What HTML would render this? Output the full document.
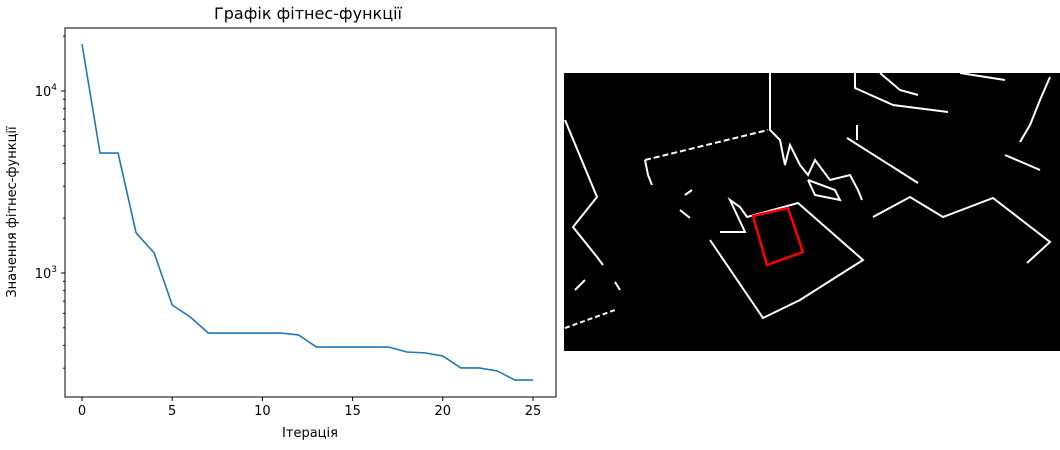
<!DOCTYPE html>
<html><head><meta charset="utf-8"><style>
body{margin:0;background:#fff;width:1060px;height:450px;overflow:hidden;font-family:"Liberation Sans","DejaVu Sans",sans-serif}
svg{position:absolute;left:0;top:0}
text{font-family:"DejaVu Sans","Liberation Sans",sans-serif;fill:#000}
</style></head><body>
<svg id="s" width="1060" height="450">
<text x="308" y="19" font-size="16" text-anchor="middle">Графік фітнес-функції</text>
<g id="axes"></g>
<text x="310" y="437" font-size="13" text-anchor="middle">Ітерація</text>
<text transform="translate(16,212) rotate(-90)" font-size="13" text-anchor="middle">Значення фітнес-функції</text>
<g>
<rect x="564" y="73" width="496" height="278" fill="#000"/>
<g fill="none" stroke="#fff" stroke-width="2">
<polyline points="710,240 763,318 800,300 863,260 798,203 747,217 740,207 730,200 745,232 720,232"/>
<polyline points="645,160 768,130" stroke-dasharray="6,3"/>
<polyline points="645,160 648,175 652,185"/>
<polyline points="770,73 770,130 780,140 785,165 790,145 800,165 808,175 815,160 830,180 850,175 858,190 862,200"/>
<polyline points="855,73 855,88 893,105 948,112"/>
<polyline points="880,73 900,90 918,95"/>
<polyline points="960,73 1005,80"/>
<polyline points="1050,77 1040,100 1030,125 1020,142"/>
<polyline points="1005,155 1040,170"/>
<polyline points="847,138 918,183"/>
<polyline points="857,125 857,140"/>
<polyline points="873,217 910,197 943,217 993,198 1050,242 1027,263"/>
<polyline points="808,180 835,190 840,200 815,195 808,180"/>
<polyline points="565,120 597,197 573,227 597,257 603,265"/>
<polyline points="565,328 615,310" stroke-dasharray="5,3"/>
<polyline points="575,290 585,280"/>
<polyline points="615,282 620,290"/>
<polyline points="680,210 690,218"/>
<polyline points="692,190 685,195"/>
</g>
<polygon points="753,216 788,208 803,252 767,265" fill="none" stroke="#f00" stroke-width="2.5"/>
</g>
</svg>
<script>
const iterations=[0,1,2,3,4,5,6,7,8,9,10,11,12,13,14,15,16,17,18,19,20,21,22,23,24,25];
const fitness=[18100,4560,4560,1660,1290,667,573,468,468,468,468,468,457,392,392,392,392,392,368,364,350,301,301,290,258,258];
const xTicks=[0,5,10,15,20,25];
const yMajor=[1000,10000];
const yMinor=[300,400,500,600,700,800,900,2000,3000,4000,5000,6000,7000,8000,9000,20000];
const NS='http://www.w3.org/2000/svg';
const L=65,R=556,T=28,B=397;
const xs=v=>82+(v-0)*(533-82)/25;
const ys=v=>273-182*Math.log10(v/1000);
const g=document.getElementById('axes');
function mk(tag,a){const e=document.createElementNS(NS,tag);for(const k in a)e.setAttribute(k,a[k]);g.appendChild(e);return e;}
const fr=mk('rect',{x:L,y:T,width:R-L,height:B-T,fill:'none',stroke:'#000','stroke-width':1});


xTicks.forEach(t=>{
 const x=xs(t);
 const l=mk('line',{x1:x,x2:x,y1:B,y2:B+4,stroke:'#000'});
 
 
 const tx=mk('text',{x:x,y:B+18,'font-size':13,'text-anchor':'middle'});tx.textContent=t;
 
 
});
yMajor.forEach(v=>{
 const y=ys(v);
 const l=mk('line',{x1:L-4,x2:L,y1:y,y2:y,stroke:'#000'});
 
 
 const tx=mk('text',{x:L-8,y:y+5,'font-size':13,'text-anchor':'end'});
 tx.innerHTML='10<tspan dy="-6" font-size="9">'+Math.round(Math.log10(v))+'</tspan>';
 
 
});
yMinor.forEach(v=>{
 const y=ys(v);if(y<T||y>B)return;
 const l=mk('line',{x1:L-2,x2:L,y1:y,y2:y,stroke:'#000'});
 
 
});
const pl=mk('polyline',{points:iterations.map((t,i)=>xs(t)+','+ys(fitness[i])).join(' '),fill:'none',stroke:'#1f77b4','stroke-width':1.6});


</script>
</body></html>
